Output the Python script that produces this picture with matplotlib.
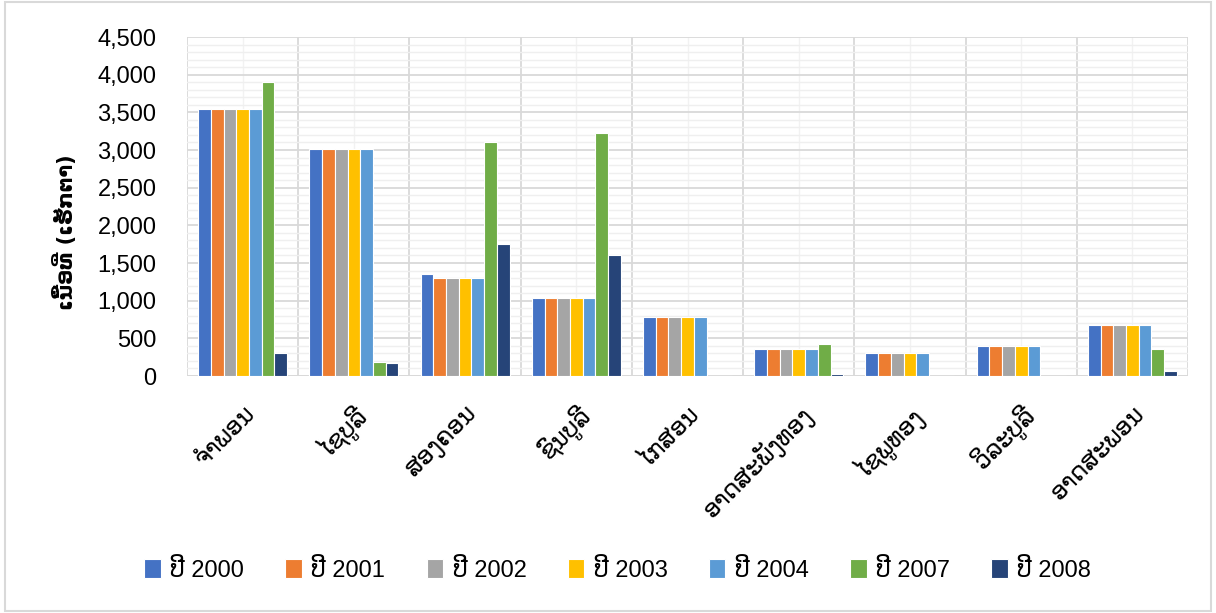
#!/usr/bin/env python3
"""
Planted area by district, grouped bar chart
"""

import numpy as np
import matplotlib
matplotlib.use('Agg')
import matplotlib.pyplot as plt
from matplotlib.patches import Rectangle
from matplotlib.ticker import MultipleLocator, FuncFormatter

districts = ['ຈຳພອນ', 'ໄຊບູລີ', 'ສອງຄອນ', 'ຊົນບູລີ', 'ໄກສອນ',
             'ອາດສະພັງທອງ', 'ໄຊພູທອງ', 'ວິລະບູລີ', 'ອາດສະພອນ']
years = ['ປີ 2000', 'ປີ 2001', 'ປີ 2002', 'ປີ 2003', 'ປີ 2004', 'ປີ 2007', 'ປີ 2008']

area_2000 = [3540, 3020, 1350, 1030, 790, 355, 300, 400, 680]
area_2001 = [3540, 3020, 1300, 1030, 790, 355, 300, 400, 680]
area_2002 = [3540, 3020, 1300, 1030, 790, 355, 300, 400, 680]
area_2003 = [3540, 3020, 1300, 1030, 790, 355, 300, 400, 680]
area_2004 = [3540, 3020, 1300, 1030, 790, 355, 300, 400, 680]
area_2007 = [3900, 190, 3110, 3220, 0, 425, 0, 0, 358]
area_2008 = [305, 170, 1750, 1605, 0, 25, 0, 0, 65]

series = [area_2000, area_2001, area_2002, area_2003, area_2004, area_2007, area_2008]
colors = ['#4472C4', '#ED7D31', '#A5A5A5', '#FFC000', '#5B9BD5', '#70AD47', '#264478']

FONT = ['Liberation Sans', 'DejaVu Sans']
plt.rcParams['font.family'] = FONT


def main():
    fig = plt.figure(figsize=(12.16, 6.13), dpi=100)
    ax = fig.add_axes([0.1538, 0.3866, 0.8232, 0.553])

    x = np.arange(len(districts))
    n = len(series)
    width = 0.8 / n
    for i, (vals, c, lab) in enumerate(zip(series, colors, years)):
        ax.bar(x - 0.4 + width * (i + 0.5), vals, width, color=c, label=lab,
               edgecolor='white', linewidth=0.8, zorder=3)

    ax.set_xlim(-0.5, len(districts) - 0.5)
    ax.set_ylim(0, 4500)
    ax.yaxis.set_major_locator(MultipleLocator(500))
    ax.yaxis.set_minor_locator(MultipleLocator(100))
    ax.yaxis.set_major_formatter(FuncFormatter(lambda v, p: f'{int(v):,}'))

    ax.set_xticks(x)
    ax.set_xticks(np.arange(len(districts) + 1) - 0.5, minor=True)
    ax.set_xticklabels(districts, rotation=45, ha='right', rotation_mode='anchor',
                       fontsize=17, family=['DejaVu Sans'])
    ax.tick_params(axis='x', which='both', length=0, pad=18)
    ax.tick_params(axis='y', which='both', length=0, pad=22, labelsize=17)

    # major lines at category edges / every 500, light ones in between
    ax.grid(axis='y', which='major', color='#D9D9D9', linewidth=1.3, zorder=0)
    ax.grid(axis='y', which='minor', color='#EFEFEF', linewidth=1.0, zorder=0)
    ax.grid(axis='x', which='minor', color='#D9D9D9', linewidth=1.3, zorder=0)
    ax.grid(axis='x', which='major', color='#F2F2F2', linewidth=1.0, zorder=0)

    for s in ax.spines.values():
        s.set_visible(False)
    ax.axhline(0, color='#D9D9D9', linewidth=1.3, zorder=2)

    ax.set_ylabel('ເນື້ອທີ່ (ເຮັກຕາ)', fontsize=15, fontweight='bold',
                  family=['DejaVu Sans'])
    ax.yaxis.set_label_coords(-0.11, 0.425)

    fig.legend(loc='center', bbox_to_anchor=(0.508, 0.07), ncol=7, frameon=False,
               handlelength=0.7, handleheight=0.9, handletextpad=0.4,
               columnspacing=1.75, prop={'family': FONT, 'size': 17})

    fig.patches.append(Rectangle((0.004, 0.003), 0.992, 0.994, transform=fig.transFigure,
                                 fill=False, edgecolor='#D9D9D9', linewidth=1.5))

    fig.savefig('out.png', dpi=100)


if __name__ == '__main__':
    main()
